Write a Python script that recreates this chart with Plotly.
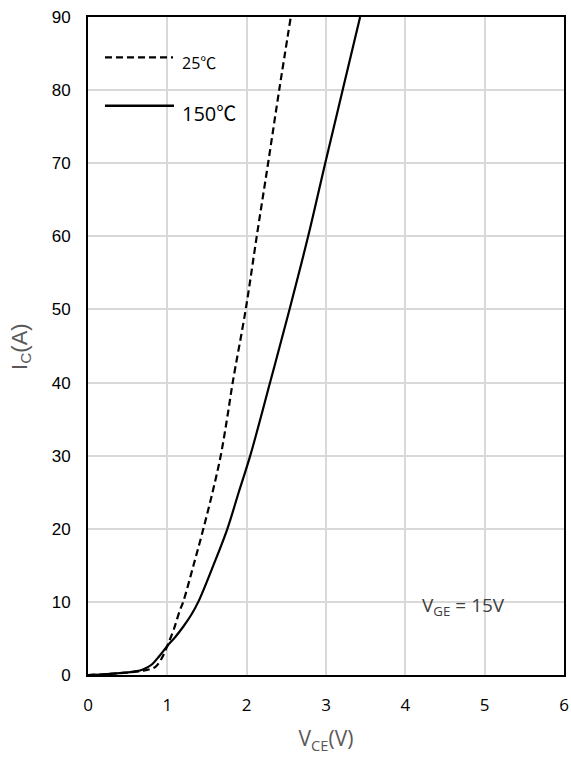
import plotly.graph_objects as go

# Data
V25 = [0, 0.2, 0.4, 0.6, 0.7, 0.78, 0.85, 0.93, 1.0, 1.08, 1.16, 1.2, 1.33, 1.454, 1.57, 1.673, 1.752, 1.824, 1.988, 2.127, 2.27, 2.41, 2.556]
I25 = [0, 0.1, 0.25, 0.45, 0.6, 0.8, 1.1, 2.3, 4.0, 6.2, 8.9, 10, 15, 20, 25, 30, 35, 40, 50, 60, 70, 80, 90]

V150 = [0, 0.2, 0.4, 0.6, 0.7, 0.8, 0.9, 1.0, 1.1, 1.2, 1.3, 1.39, 1.58, 1.757, 1.9, 2.045, 2.295, 2.54, 2.775, 2.99, 3.21, 3.43]
I150 = [0, 0.1, 0.25, 0.5, 0.8, 1.4, 2.6, 3.97, 5.2, 6.6, 8.2, 10, 15, 20, 25, 30, 40, 50, 60, 70, 80, 90]

x_ticks = [0, 1, 2, 3, 4, 5, 6]
y_ticks = [0, 10, 20, 30, 40, 50, 60, 70, 80, 90]

series_names = ["25℃", "150℃"]

fig = go.Figure()
fig.add_trace(go.Scatter(x=V25, y=I25, mode="lines", name=series_names[0],
                         line=dict(color="black", width=2.2, dash="7px,4px", shape="spline", smoothing=1.0),
                         showlegend=False))
fig.add_trace(go.Scatter(x=V150, y=I150, mode="lines", name=series_names[1],
                         line=dict(color="black", width=2.2, shape="spline", smoothing=1.0),
                         showlegend=False))

# Legend drawn manually (long line samples like the reference)
fig.add_shape(type="line", xref="paper", yref="paper", x0=0.0357, x1=0.1786, y0=0.9385, y1=0.9385,
              line=dict(color="black", width=2.2, dash="7px,4px"))
fig.add_shape(type="line", xref="paper", yref="paper", x0=0.0357, x1=0.1807, y0=0.865, y1=0.865,
              line=dict(color="black", width=2.5))
fig.add_annotation(xref="paper", yref="paper", x=0.193, y=0.930, text=series_names[0],
                   showarrow=False, xanchor="left", yanchor="middle",
                   font=dict(family="Open Sans, Noto Sans CJK JP", size=16, color="black"))
fig.add_annotation(xref="paper", yref="paper", x=0.193, y=0.853, text=series_names[1],
                   showarrow=False, xanchor="left", yanchor="middle",
                   font=dict(family="Open Sans, Noto Sans CJK JP", size=20, color="black"))

fig.add_annotation(x=4.19, y=9.4, text="V<sub>GE</sub> = 15V", showarrow=False,
                   xanchor="left", yanchor="middle",
                   font=dict(family="Open Sans", size=19, color="#404040"))

# Y axis title (placed as rotated text)
fig.add_annotation(xref="paper", yref="paper", x=-0.141, y=0.5, text="I<sub>C</sub>(A)",
                   showarrow=False, textangle=-90, xanchor="center", yanchor="middle",
                   font=dict(family="Liberation Sans", size=22, color="#595959"))

fig.update_layout(
    width=571, height=762,
    margin=dict(l=88, r=7, t=17, b=87),
    paper_bgcolor="white", plot_bgcolor="white",
    xaxis=dict(range=[0, 6], tickvals=x_ticks, ticktext=[str(v) for v in x_ticks],
               automargin=False,
               showgrid=True, gridcolor="#d9d9d9", gridwidth=2, zeroline=False,
               showline=True, linecolor="black", linewidth=2, mirror=True,
               ticks="", ticklabelstandoff=14,
               tickfont=dict(family="Open Sans", size=17, color="black"),
               title=dict(text="V<sub>CE</sub>(V)", standoff=16,
                          font=dict(family="Open Sans", size=21, color="#595959"))),
    yaxis=dict(range=[0, 90], tickvals=y_ticks, ticktext=[str(v) for v in y_ticks],
               automargin=False,
               showgrid=True, gridcolor="#d9d9d9", gridwidth=2, zeroline=False,
               showline=True, linecolor="black", linewidth=2, mirror=True,
               ticks="", ticklabelstandoff=12,
               tickfont=dict(family="Liberation Sans", size=17, color="black")),
)

fig.write_html("out.html", config={"displayModeBar": False},
               post_script="document.body.style.margin='0';")
